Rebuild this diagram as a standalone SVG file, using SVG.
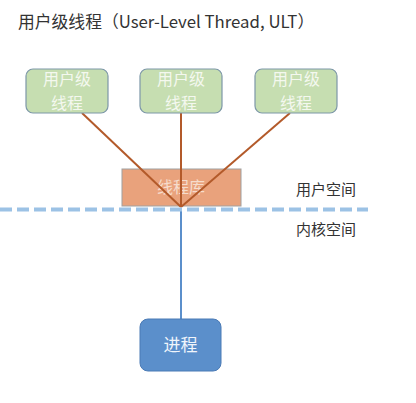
<svg xmlns="http://www.w3.org/2000/svg" width="416" height="403" viewBox="0 0 416 403">
<style>
.t{font-family:"Noto Sans CJK SC","Liberation Sans",sans-serif;}
.ult rect{fill:#c6deb1;stroke:#7d97a8;stroke-width:1.2;}
.ult text{fill:#f4f8ef;font-size:16px;text-anchor:middle;}
.lib{stroke:#b35a2a;stroke-width:2;fill:none;}
</style>
<rect width="416" height="403" fill="#fff"/>
<text class="t" x="18" y="28" font-size="16.8" fill="#333">用户级线程（User-Level Thread, ULT）</text>

<g id="lib-box">
<rect x="122" y="169" width="119" height="37" fill="#e9a27c" stroke="#a0a0a0" stroke-width="1"/>
<text class="t" x="181" y="193" font-size="16" fill="#f6dccc" text-anchor="middle">线程库</text>
</g>

<g id="connectors">
<line x1="82" y1="113" x2="181" y2="207" class="lib"/>
<line x1="181" y1="113" x2="181" y2="207" class="lib"/>
<line x1="290" y1="113" x2="181" y2="207" class="lib"/>
<line x1="181" y1="209" x2="181" y2="319" stroke="#5b8fcb" stroke-width="2"/>
</g>

<g id="ult1" class="ult t"><rect x="26" y="69" width="82" height="44" rx="7"/><text x="67" y="85">用户级</text><text x="67" y="108.5">线程</text></g>
<g id="ult2" class="ult t"><rect x="140" y="69" width="82" height="44" rx="7"/><text x="181" y="85">用户级</text><text x="181" y="108.5">线程</text></g>
<g id="ult3" class="ult t"><rect x="255" y="69" width="82" height="44" rx="7"/><text x="296" y="85">用户级</text><text x="296" y="108.5">线程</text></g>

<line x1="0" y1="209.5" x2="368" y2="209.5" stroke="#9cc2e5" stroke-width="4" stroke-dasharray="12,5"/>

<text class="t" x="296" y="195" font-size="15" fill="#333">用户空间</text>
<text class="t" x="296" y="235" font-size="15" fill="#333">内核空间</text>

<g id="process">
<rect x="140" y="319" width="81" height="52" rx="8" fill="#5b8fcb" stroke="#4a7ab5" stroke-width="1"/>
<text class="t" x="180.5" y="351" font-size="17" fill="#f0f5fb" text-anchor="middle">进程</text>
</g>
</svg>
